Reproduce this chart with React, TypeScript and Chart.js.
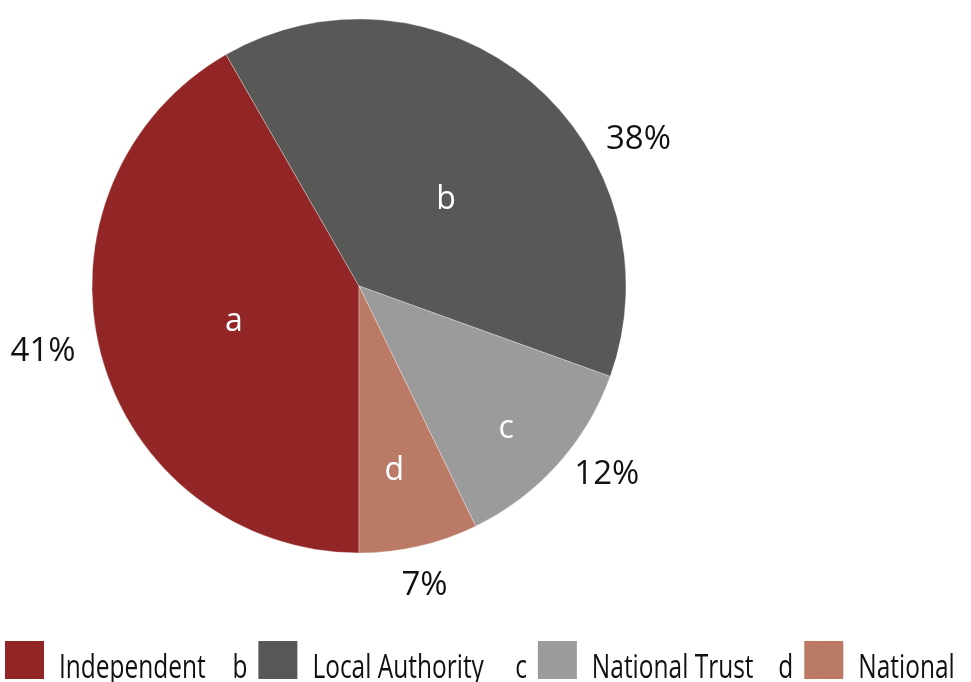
import React, { useEffect, useRef } from "react";
import { Chart, registerables } from "chart.js";

Chart.register(...registerables);

const categories = ["Independent", "Local Authority", "National Trust", "National"];
const letters = ["a", "b", "c", "d"];
const values = [41.7, 38.8, 12.3, 7.2];
const percentLabels = ["41%", "38%", "12%", "7%"];
const colors = ["#922626", "#585856", "#9b9b9b", "#bb7a66"];

// label placement tweaks (angle delta in degrees, radial factor)
const innerDelta = [0, 4.5, 1.6, 2];
const innerK = [0.485, 0.465, 0.76, 0.693];
const outerDelta = [3.8, 21.9, -5.1, 0.5];
const outerK = [1.206, 1.187, 1.16, 1.137];

const FONT = '"Open Sans", "Noto Sans", sans-serif';

const labelsPlugin = {
  id: "customLabels",
  afterDraw(chart: any) {
    const ctx = chart.ctx as CanvasRenderingContext2D;
    const meta = chart.getDatasetMeta(0);
    const dy = 3;
    ctx.save();
    meta.data.forEach((arc: any, i: number) => {
      const mid = (arc.startAngle + arc.endAngle) / 2;
      const r = arc.outerRadius;
      // inner letters
      const ai = mid + (innerDelta[i] * Math.PI) / 180;
      ctx.font = `32px ${FONT}`;
      ctx.fillStyle = "#ffffff";
      ctx.textAlign = "center";
      ctx.textBaseline = "middle";
      ctx.fillText(letters[i], arc.x + Math.cos(ai) * r * innerK[i], arc.y + Math.sin(ai) * r * innerK[i] + dy);
      // outer percentages
      const ao = mid + (outerDelta[i] * Math.PI) / 180;
      ctx.font = `33px ${FONT}`;
      ctx.fillStyle = "#111111";
      ctx.fillText(percentLabels[i], arc.x + Math.cos(ao) * r * outerK[i], arc.y + Math.sin(ao) * r * outerK[i] + dy);
    });
    ctx.restore();

    // legend: letter, box, label  (first letter falls off the left edge)
    ctx.save();
    const squeeze = 0.765;
    const baseline = 678;
    const box = 38;
    ctx.font = `32px ${FONT}`;
    ctx.textBaseline = "alphabetic";
    ctx.textAlign = "left";
    let x = 5;
    categories.forEach((cat, i) => {
      const lw = ctx.measureText(letters[i]).width * squeeze;
      ctx.save();
      ctx.translate(x - 11 - lw, baseline);
      ctx.scale(squeeze, 1);
      ctx.fillStyle = "#111111";
      ctx.fillText(letters[i], 0, 0);
      ctx.restore();
      ctx.fillStyle = colors[i];
      ctx.fillRect(x, baseline - box + 1, box + 1, box);
      x += box + 1 + 15;
      ctx.save();
      ctx.translate(x, baseline);
      ctx.scale(squeeze, 1);
      ctx.fillStyle = "#111111";
      ctx.fillText(cat, 0, 0);
      ctx.restore();
      x += ctx.measureText(cat).width * squeeze + 28 + 11 + lw;
    });
    ctx.restore();
  },
};

export default function App() {
  const ref = useRef<HTMLCanvasElement | null>(null);
  useEffect(() => {
    if (!ref.current) return;
    const chart = new Chart(ref.current, {
      type: "pie",
      data: {
        labels: categories,
        datasets: [
          {
            data: values,
            backgroundColor: colors,
            borderColor: "rgba(255,255,255,0.6)",
            borderWidth: 0.5,
            hoverOffset: 0,
            radius: 267,
          } as any,
        ],
      },
      options: {
        animation: false,
        responsive: false,
        rotation: 180,
        layout: { padding: { left: 0, right: 253, top: 0, bottom: 110 } },
        plugins: {
          legend: { display: false },
          tooltip: { enabled: false },
        },
      },
      plugins: [labelsPlugin],
    });
    return () => chart.destroy();
  }, []);
  return (
    <div style={{ position: "absolute", left: 0, top: 0, width: 971, height: 682, background: "#fff" }}>
      <canvas ref={ref} width={971} height={682} style={{ display: "block" }} />
    </div>
  );
}
